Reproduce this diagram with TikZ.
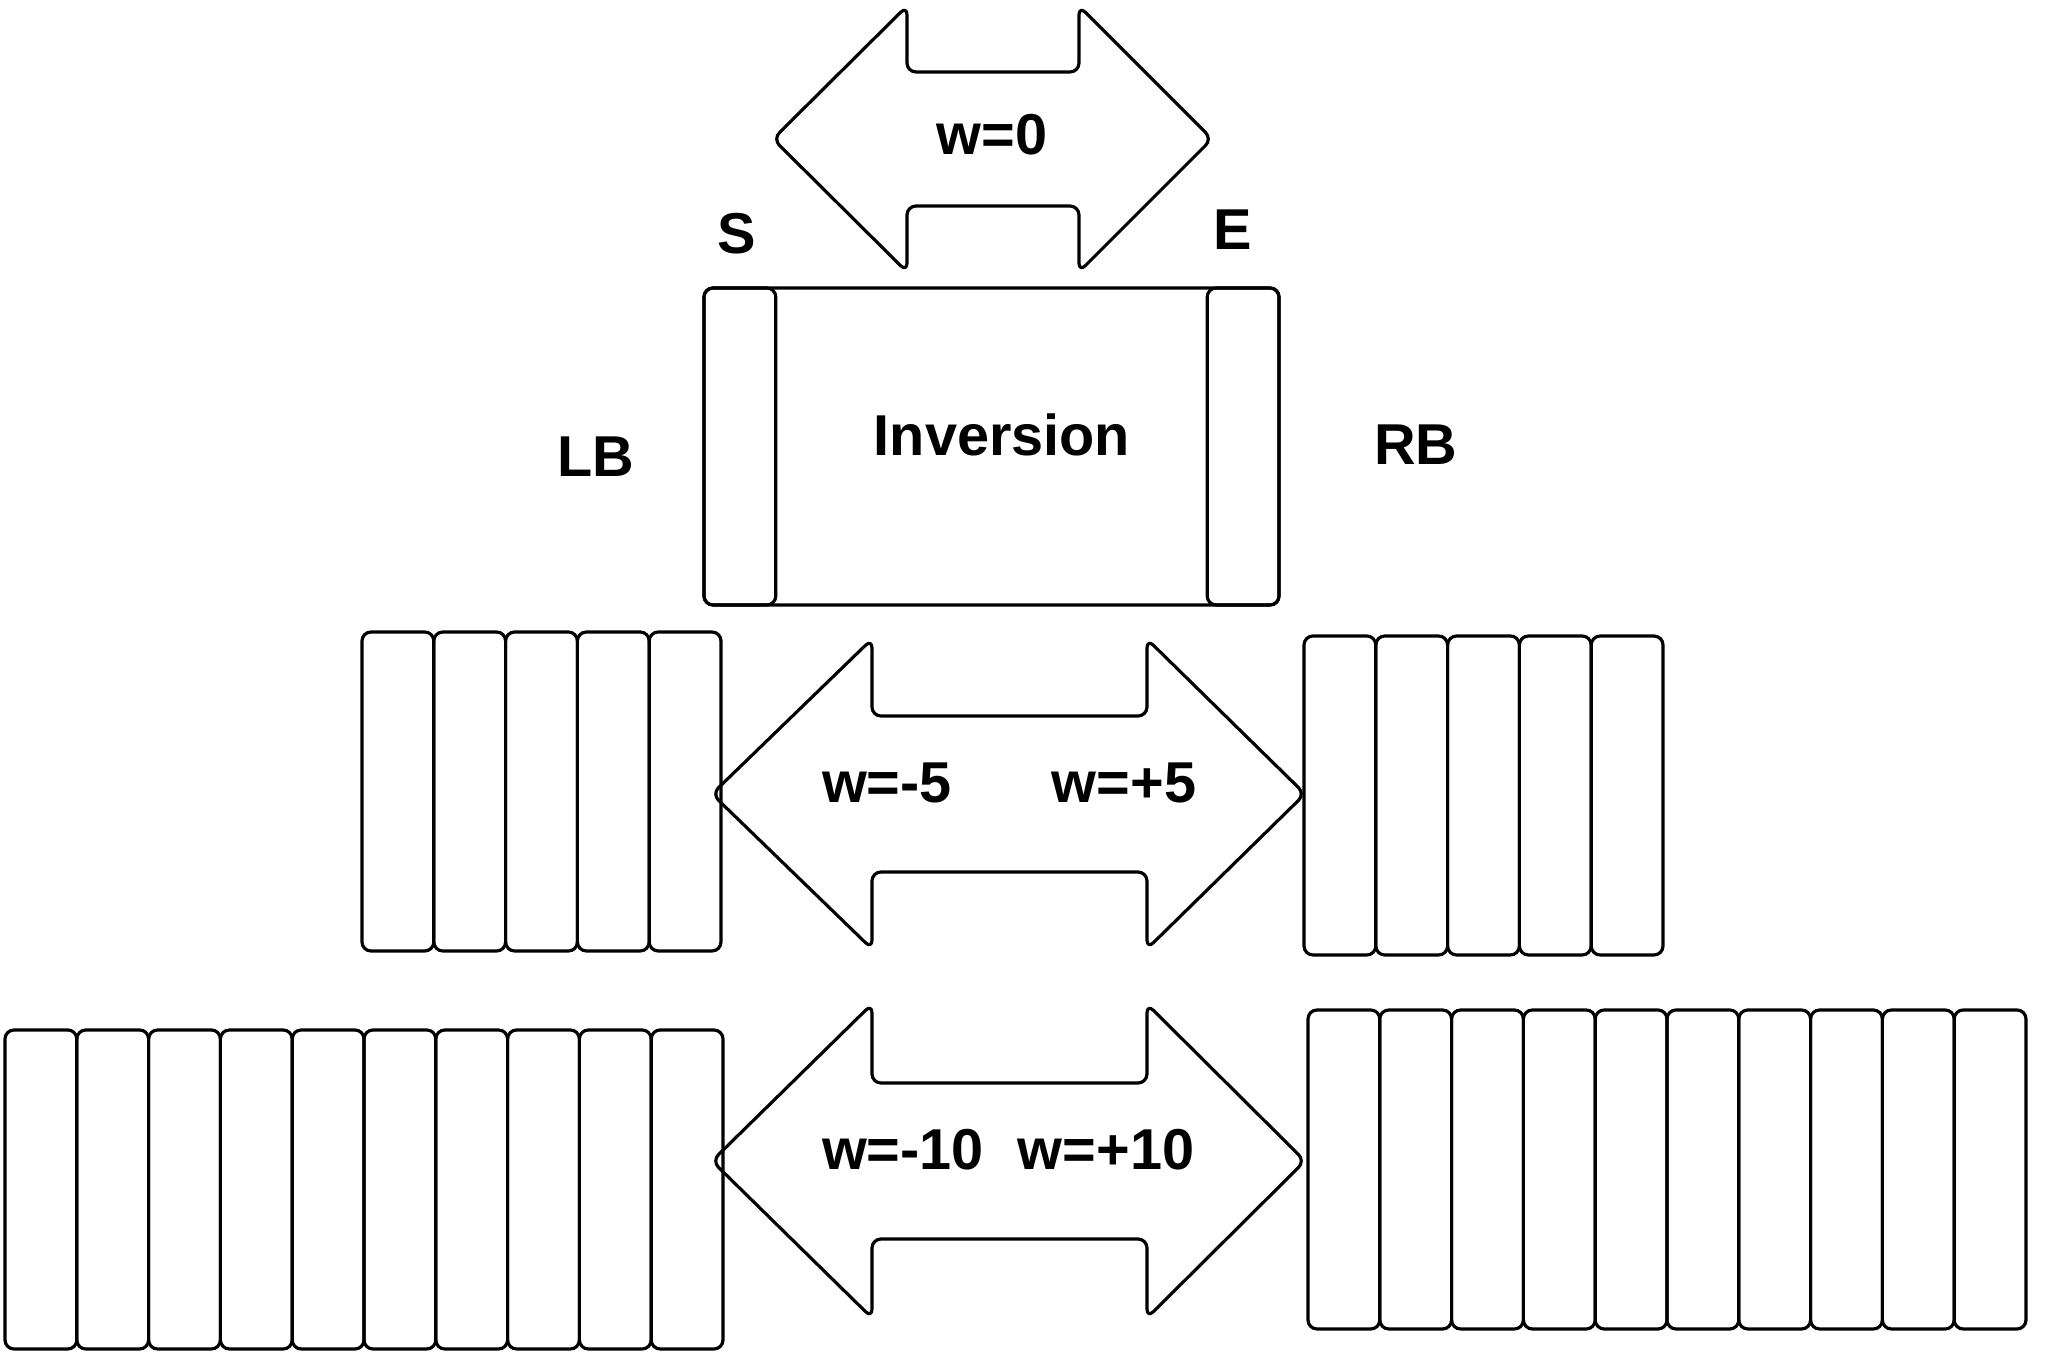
\documentclass[tikz,border=0pt]{standalone}
\usepackage{fontspec}
\setmainfont{Liberation Sans}
\usepackage{tikz}
\usetikzlibrary{positioning}
\tikzset{
  blk/.style={rectangle, draw=black, line width=0.9pt, rounded corners=0.9mm,
              minimum width=7.18mm, minimum height=31.9mm,
              inner sep=0pt, outer sep=0pt},
  framebox/.style={rectangle, draw=black, line width=0.9pt, rounded corners=0.9mm,
                   inner sep=0pt, outer sep=0pt},
  lbl/.style={font=\bfseries\fontsize{16.4}{19}\selectfont, inner sep=0pt, anchor=base},
  bigarrow/.style={draw=black, line width=0.9pt, rounded corners=0.9mm, line join=round},
}
% double block arrow: tip, shaft left, shaft right, tip, mid y, shaft half, head half
\newcommand{\warrow}[7]{%
  \draw[bigarrow] (#1,#5) -- (#2,#5-#7) -- (#2,#5-#6) -- (#3,#5-#6) -- (#3,#5-#7)
    -- (#4,#5) -- (#3,#5+#7) -- (#3,#5+#6) -- (#2,#5+#6) -- (#2,#5+#7) -- cycle;}

\begin{document}
\begin{tikzpicture}[x=0.1mm, y=-0.1mm]
  \useasboundingbox (0,0) rectangle (2055,1371);

  % window at w=0
  \warrow{773}{907}{1079}{1212}{139}{67}{133}
  \node[lbl] (w0) at (992,155) {w=0};
  \node[lbl] (lblS) at (737,254) {S};
  \node[lbl] (lblE) at (1233,250) {E};

  \node[framebox, minimum width=57.5mm, minimum height=31.7mm] (inv) at (991.5,446.5) {};
  \node[blk, minimum height=31.7mm, anchor=west] (sbar) at (inv.west) {};
  \node[blk, minimum height=31.7mm, anchor=east] (ebar) at (inv.east) {};
  \node[lbl] (invtxt) at (1002,456) {Inversion};
  \node[lbl] (lblLB) at (596,477) {LB};
  \node[lbl] (lblRB) at (1416,465) {RB};

  % w = +-5
  \node[blk, anchor=north west] (lm1) at (362,632) {};
  \foreach \i [remember=\i as \p (initially 1)] in {2,...,5}
    \node[blk, right=0pt of lm\p] (lm\i) {};
  \node[blk, anchor=north west] (rm1) at (1304,636) {};
  \foreach \i [remember=\i as \p (initially 1)] in {2,...,5}
    \node[blk, right=0pt of rm\p] (rm\i) {};
  \warrow{712}{872}{1147}{1305}{794}{78}{155}
  \node[lbl] (wm5) at (887,803) {w=-5};
  \node[lbl] (wp5) at (1124,803) {w=+5};

  % w = +-10
  \node[blk, anchor=north west] (lb1) at (5,1030) {};
  \foreach \i [remember=\i as \p (initially 1)] in {2,...,10}
    \node[blk, right=0pt of lb\p] (lb\i) {};
  \node[blk, anchor=north west] (rb1) at (1308,1010) {};
  \foreach \i [remember=\i as \p (initially 1)] in {2,...,10}
    \node[blk, right=0pt of rb\p] (rb\i) {};
  \warrow{712}{872}{1147}{1305}{1161}{78}{157}
  \node[lbl] (wm10) at (903,1170) {w=-10};
  \node[lbl] (wp10) at (1106,1170) {w=+10};
\end{tikzpicture}
\end{document}
